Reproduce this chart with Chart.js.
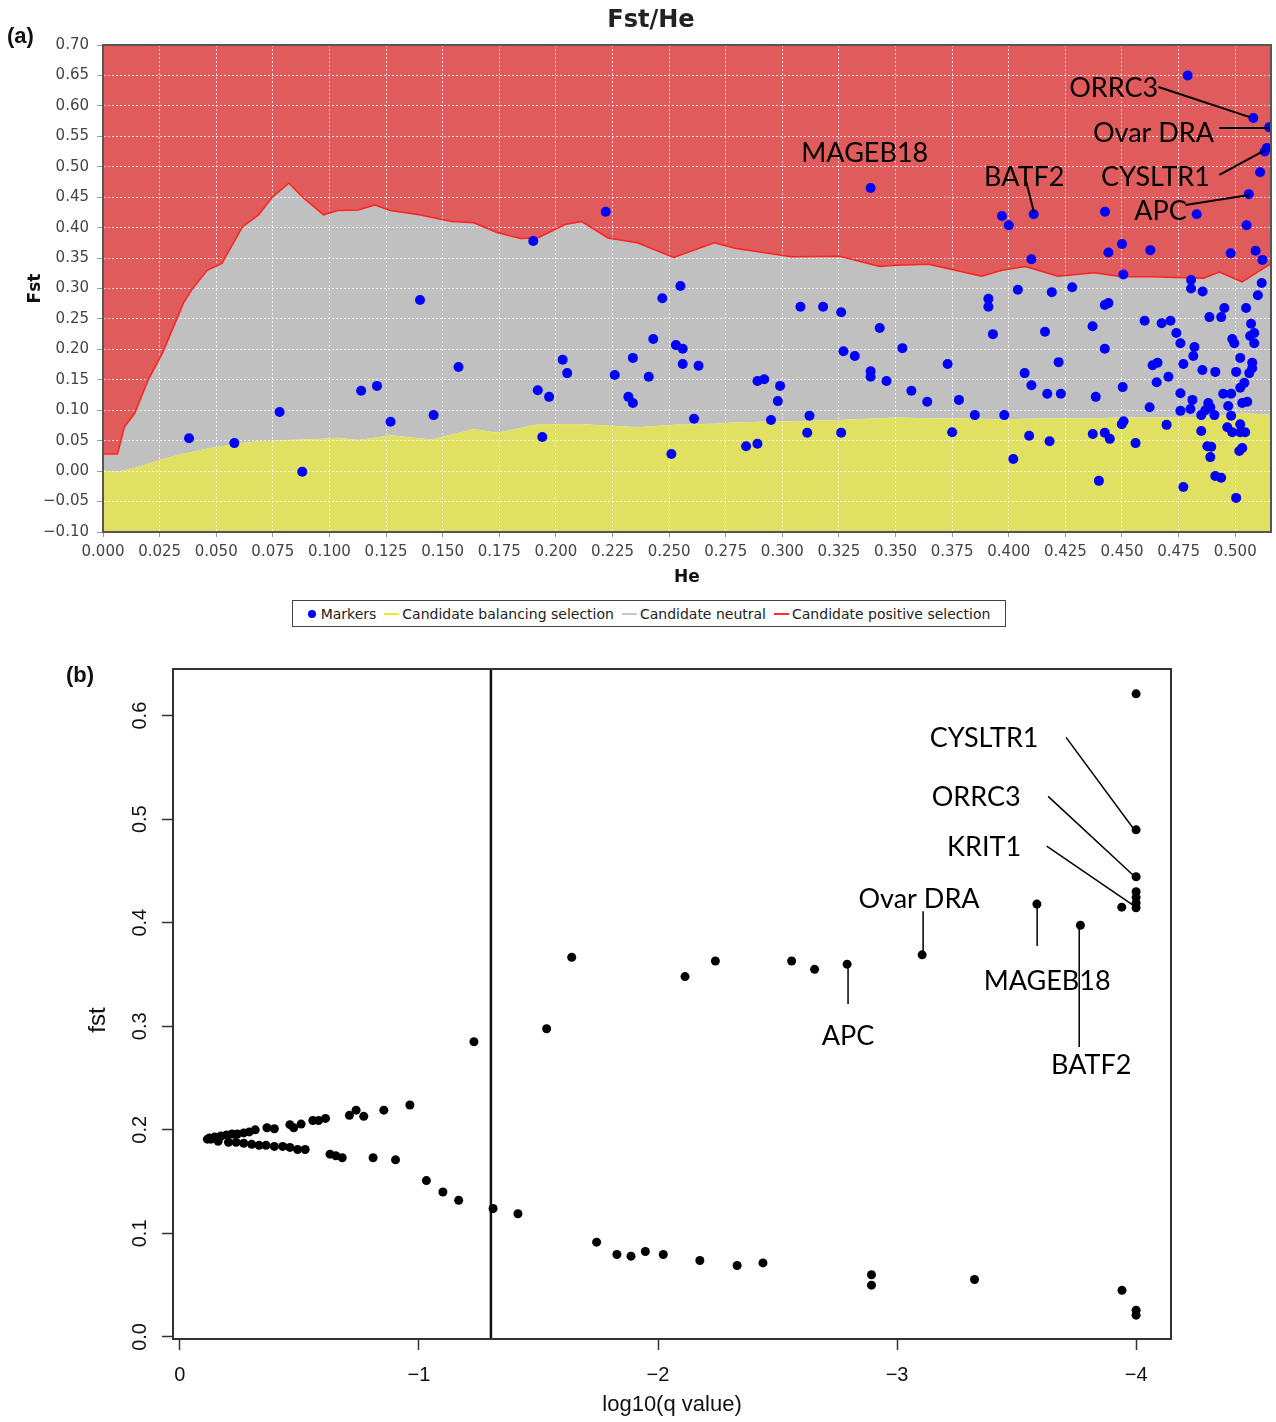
<!DOCTYPE html>
<html>
<head>
<meta charset="utf-8">
<script src="https://cdn.jsdelivr.net/npm/chart.js@4.4.1/dist/chart.umd.min.js"></script>
<style>
  body { margin: 0; background: #fff; }
  #page { position: relative; width: 1276px; height: 1422px; overflow: hidden; }
  #wrapA { position: absolute; left: 0; top: 0; width: 1276px; height: 600px; }
  #wrapB { position: absolute; left: 0; top: 640px; width: 1276px; height: 782px; }
  .tag { position: absolute; font-family: 'Liberation Sans', Arial, sans-serif; font-weight: bold; font-size: 22px; color: #111; }
  #titleA { position: absolute; left: 551px; top: 5px; width: 200px; text-align: center;
            font-family: 'DejaVu Sans', sans-serif; font-weight: bold; font-size: 24px; color: #222; }
  #legend { position: absolute; left: 292px; top: 600px; width: 714px; height: 27px; box-sizing: border-box;
            border: 1px solid #444; display: flex; align-items: center; justify-content: center;
            font-family: 'DejaVu Sans', sans-serif; font-size: 14px; color: #222; white-space: nowrap; }
  #legend .dot { width: 8px; height: 8px; border-radius: 50%; background: #0000ff; margin-right: 5px; }
  #legend .ln { width: 15px; height: 2px; margin: 0 3px 0 8px; }
</style>
</head>
<body>
<div id="page">
  <div id="wrapA"><canvas id="chartA"></canvas></div>
  <div class="tag" style="left:7px; top:23px;">(a)</div>
  <div id="titleA">Fst/He</div>
  <div id="legend">
    <span class="dot"></span>Markers
    <span class="ln" style="background:#e8e830"></span>Candidate balancing selection
    <span class="ln" style="background:#c8c8c8"></span>Candidate neutral
    <span class="ln" style="background:#ff3030"></span>Candidate positive selection
  </div>
  <div id="wrapB"><canvas id="chartB"></canvas></div>
  <div class="tag" style="left:66px; top:662px;">(b)</div>
</div>
<script>
// (a) boundaries of the neutral envelope, Fst against He
const heGrid = [0, 0.0064, 0.0095, 0.014, 0.020, 0.0265, 0.0355, 0.039, 0.046, 0.0525,
  0.0615, 0.0687, 0.075, 0.0821, 0.0884, 0.0974, 0.1037, 0.1127, 0.120, 0.127,
  0.1396, 0.145, 0.154, 0.1638, 0.174, 0.1844, 0.192, 0.204, 0.2114, 0.223,
  0.236, 0.252, 0.270, 0.279, 0.290, 0.304, 0.3254, 0.343, 0.350, 0.3646,
  0.388, 0.397, 0.4074, 0.4217, 0.4377, 0.450, 0.4627, 0.486, 0.493, 0.503, 0.5158];
const upperBound = [0.028, 0.028, 0.073, 0.095, 0.150, 0.196, 0.276, 0.297, 0.330, 0.341,
  0.401, 0.421, 0.451, 0.473, 0.449, 0.421, 0.428, 0.429, 0.437, 0.428,
  0.421, 0.417, 0.410, 0.408, 0.392, 0.382, 0.383, 0.405, 0.410, 0.383,
  0.375, 0.351, 0.375, 0.366, 0.360, 0.352, 0.353, 0.336, 0.338, 0.340,
  0.320, 0.330, 0.336, 0.320, 0.326, 0.3195, 0.3195, 0.317, 0.327, 0.311, 0.341];
const lowerBound = [0.001, -0.001, 0.002, 0.005, 0.012, 0.020, 0.029, 0.031, 0.037, 0.041,
  0.046, 0.049, 0.050, 0.051, 0.052, 0.053, 0.055, 0.051, 0.055, 0.059,
  0.054, 0.052, 0.060, 0.069, 0.063, 0.071, 0.077, 0.077, 0.077, 0.075,
  0.072, 0.076, 0.078, 0.080, 0.081, 0.082, 0.084, 0.087, 0.088, 0.087,
  0.086, 0.085, 0.086, 0.087, 0.087, 0.088, 0.088, 0.089, 0.091, 0.096, 0.092];

// (a) markers
const markerHe = [
  0.038, 0.058, 0.078, 0.088, 0.114, 0.121, 0.127, 0.140, 0.146, 0.157,
  0.190, 0.192, 0.194, 0.197, 0.203, 0.205, 0.222, 0.226, 0.232, 0.234,
  0.234, 0.241, 0.243, 0.247, 0.251, 0.253, 0.255, 0.256, 0.256, 0.261,
  0.263, 0.284, 0.289, 0.289, 0.292, 0.295, 0.298, 0.299, 0.308, 0.311,
  0.312, 0.318, 0.326, 0.326, 0.327, 0.332, 0.339, 0.339, 0.339, 0.343,
  0.346, 0.353, 0.357, 0.364, 0.373, 0.375, 0.378, 0.385, 0.391, 0.391,
  0.393, 0.397, 0.398, 0.400, 0.402, 0.404, 0.407, 0.410, 0.411, 0.410,
  0.409, 0.416, 0.417, 0.418, 0.419, 0.422, 0.423, 0.428,
  0.479, 0.508, 0.515, 0.514, 0.513, 0.511, 0.506, 0.4425, 0.483, 0.505,
  0.450, 0.444, 0.4625, 0.498, 0.509, 0.512, 0.4506, 0.4805, 0.4805, 0.4856,
  0.5117, 0.510,
  0.444, 0.4424, 0.437, 0.4424, 0.460, 0.4675, 0.4714, 0.474, 0.4758, 0.482,
  0.4815, 0.4771, 0.4635, 0.4657, 0.4705, 0.4653, 0.4503, 0.4384, 0.4758, 0.4811,
  0.4802, 0.4758, 0.4622, 0.4855, 0.4912, 0.4886, 0.4938, 0.4952, 0.5048,
  0.507, 0.5084, 0.5066, 0.5084, 0.4987, 0.4996, 0.5022, 0.5075, 0.5075, 0.5062,
  0.5004, 0.504, 0.5022, 0.4947, 0.4982, 0.4881, 0.489, 0.4868, 0.4908, 0.485,
  0.4969, 0.5031, 0.5053, 0.4982, 0.4499, 0.4507, 0.4371, 0.4424, 0.4446, 0.456,
  0.4697, 0.485, 0.4965, 0.4987, 0.5022, 0.5044, 0.5022, 0.4877, 0.4894, 0.489,
  0.5018, 0.5031, 0.4912, 0.4938, 0.4398, 0.4771, 0.5004];
const markerFst = [
  0.054, 0.046, 0.097, -0.001, 0.132, 0.140, 0.081, 0.281, 0.092, 0.171,
  0.378, 0.133, 0.056, 0.122, 0.183, 0.161, 0.426, 0.158, 0.122, 0.112,
  0.186, 0.155, 0.217, 0.284, 0.028, 0.207, 0.304, 0.201, 0.176, 0.086,
  0.173, 0.041, 0.045, 0.148, 0.151, 0.084, 0.115, 0.140, 0.270, 0.063,
  0.091, 0.270, 0.261, 0.063, 0.197, 0.189, 0.465, 0.164, 0.155, 0.235,
  0.148, 0.202, 0.132, 0.114, 0.176, 0.064, 0.117, 0.092, 0.283, 0.270,
  0.225, 0.419, 0.092, 0.404, 0.020, 0.298, 0.161, 0.141, 0.422, 0.348,
  0.058, 0.229, 0.127, 0.049, 0.294, 0.179, 0.127, 0.302,
  0.650, 0.580, 0.565, 0.531, 0.525, 0.491, 0.455, 0.426, 0.422, 0.404,
  0.373, 0.359, 0.363, 0.358, 0.362, 0.347, 0.323, 0.314, 0.300, 0.295,
  0.309, 0.289,
  0.276, 0.273, 0.238, 0.201, 0.247, 0.243, 0.247, 0.227, 0.210, 0.204,
  0.189, 0.176, 0.174, 0.178, 0.155, 0.146, 0.138, 0.122, 0.128, 0.117,
  0.102, 0.099, 0.105, 0.166, 0.163, 0.253, 0.253, 0.268, 0.268,
  0.242, 0.227, 0.222, 0.210, 0.217, 0.210, 0.186, 0.178, 0.169, 0.161,
  0.163, 0.145, 0.137, 0.127, 0.127, 0.112, 0.105, 0.100, 0.092, 0.092,
  0.107, 0.112, 0.114, 0.091, 0.077, 0.082, 0.061, 0.063, 0.053, 0.046,
  0.076, 0.066, 0.072, 0.064, 0.077, 0.064, 0.064, 0.041, 0.040, 0.023,
  0.033, 0.038, -0.008, -0.011, -0.016, -0.026, -0.044];

// (b) log10(q value) against fst
const qValue = [
  -0.115, -0.123, -0.145, -0.171, -0.195, -0.218, -0.240, -0.267, -0.290, -0.315,
  -0.364, -0.395, -0.460, -0.476, -0.507, -0.556, -0.580, -0.609, -0.709, -0.737,
  -0.769, -0.853, -0.962,
  -0.130, -0.160, -0.203, -0.235, -0.267, -0.300, -0.331, -0.360, -0.395, -0.430,
  -0.460, -0.492, -0.524, -0.628, -0.652, -0.679, -0.808, -0.902, -1.031, -1.100,
  -1.166, -1.310, -1.414, -1.743, -1.828, -1.887, -1.947, -2.022, -2.175, -2.331,
  -2.439, -2.893, -2.893, -3.324, -3.941, -4.000, -4.000,
  -1.230, -1.534, -1.639, -2.113, -2.240, -2.559, -2.655, -2.791, -3.105, -3.585,
  -3.767, -3.940, -4.000, -4.000, -4.000, -4.000, -4.000, -4.000, -4.000];
const fstB = [
  0.191, 0.192, 0.193, 0.194, 0.195, 0.196, 0.196, 0.197, 0.198, 0.200,
  0.202, 0.201, 0.205, 0.202, 0.2055, 0.209, 0.209, 0.211, 0.214, 0.219,
  0.213, 0.219, 0.224,
  0.191, 0.189, 0.188, 0.188, 0.187, 0.186, 0.185, 0.185, 0.184, 0.184,
  0.183, 0.181, 0.181, 0.1765, 0.175, 0.173, 0.173, 0.171, 0.151, 0.140,
  0.132, 0.124, 0.119, 0.0915, 0.0796, 0.078, 0.0825, 0.0796, 0.0738, 0.069,
  0.0715, 0.060, 0.050, 0.0555, 0.045, 0.0258, 0.021,
  0.285, 0.2976, 0.3666, 0.348, 0.363, 0.363, 0.355, 0.360, 0.369, 0.418,
  0.3975, 0.415, 0.4145, 0.419, 0.4245, 0.430, 0.4444, 0.4897, 0.621];
const qThreshold = -1.301; // q = 0.05

// gene labels, anchored in data units
const notesA = [
  { text: 'ORRC3', at: [0.4463, 0.629], line: [0.4661, 0.631, 0.5061, 0.582] },
  { text: 'Ovar DRA', at: [0.4639, 0.5554], line: [0.4930, 0.5637, 0.5150, 0.5637] },
  { text: 'CYSLTR1', at: [0.4648, 0.4832], line: [0.4930, 0.4865, 0.5132, 0.5275] },
  { text: 'APC', at: [0.4670, 0.4273], line: [0.4780, 0.4372, 0.5062, 0.4536] },
  { text: 'BATF2', at: [0.4068, 0.4832], line: [0.4077, 0.475, 0.4112, 0.424] },
  { text: 'MAGEB18', at: [0.3364, 0.5226] }
];
const notesB = [
  { text: 'CYSLTR1', at: [-3.364, 0.578], line: [-3.707, 0.579, -3.987, 0.4915] },
  { text: 'ORRC3', at: [-3.331, 0.521], line: [-3.632, 0.522, -3.987, 0.446] },
  { text: 'KRIT1', at: [-3.364, 0.473], line: [-3.626, 0.474, -3.987, 0.417] },
  { text: 'Ovar DRA', at: [-3.092, 0.423], line: [-3.109, 0.411, -3.109, 0.369] },
  { text: 'MAGEB18', at: [-3.628, 0.343], line: [-3.586, 0.417, -3.586, 0.3775] },
  { text: 'APC', at: [-2.795, 0.290], line: [-2.795, 0.360, -2.795, 0.3215] },
  { text: 'BATF2', at: [-3.812, 0.262], line: [-3.762, 0.3975, -3.762, 0.280] }
];

const minus = s => s.replace('-', '\u2212');
const noteFont = '27px Lato, "Open Sans", sans-serif';

const notePlugin = {
  id: 'notes',
  afterDraw(chart, args, opts) {
    const { ctx } = chart;
    const x = chart.scales.x, y = chart.scales.y;
    ctx.save();
    ctx.strokeStyle = '#000';
    ctx.lineWidth = opts.lineWidth || 2;
    ctx.fillStyle = '#000';
    ctx.font = noteFont;
    ctx.textAlign = 'center';
    ctx.textBaseline = 'middle';
    (opts.items || []).forEach(n => {
      if (n.line) {
        ctx.beginPath();
        ctx.moveTo(x.getPixelForValue(n.line[0]), y.getPixelForValue(n.line[1]));
        ctx.lineTo(x.getPixelForValue(n.line[2]), y.getPixelForValue(n.line[3]));
        ctx.stroke();
      }
      ctx.fillText(n.text, x.getPixelForValue(n.at[0]), y.getPixelForValue(n.at[1]));
    });
    ctx.restore();
  }
};

const frameA = {
  id: 'frameA',
  afterDatasetsDraw(chart) {
    const a = chart.chartArea, c = chart.ctx;
    c.save();
    c.strokeStyle = '#555';
    c.lineWidth = 2;
    c.strokeRect(a.left, a.top, a.right - a.left, a.bottom - a.top);
    c.restore();
  }
};

const frameB = {
  id: 'frameB',
  afterDraw(chart) {
    const a = chart.chartArea, c = chart.ctx, y = chart.scales.y;
    c.save();
    c.strokeStyle = '#333';
    c.lineWidth = 2;
    c.strokeRect(a.left, a.top, a.right - a.left, a.bottom - a.top);
    c.fillStyle = '#111';
    c.textAlign = 'center';
    c.textBaseline = 'middle';
    c.font = '20px "Liberation Sans", Arial, sans-serif';
    y.ticks.forEach(t => {
      c.save();
      c.translate(a.left - 33, y.getPixelForValue(t.value));
      c.rotate(-Math.PI / 2);
      c.fillText(t.value.toFixed(1), 0, 0);
      c.restore();
    });
    c.font = '24px "Liberation Sans", Arial, sans-serif';
    c.translate(a.left - 75, (a.top + a.bottom) / 2 + 16);
    c.rotate(-Math.PI / 2);
    c.fillText('fst', 0, 0);
    c.restore();
  }
};

const sansA = "'DejaVu Sans', sans-serif";

new Chart(document.getElementById('chartA'), {
  type: 'scatter',
  data: {
    datasets: [
      {
        label: 'Markers',
        data: markerHe.map((h, i) => ({ x: h, y: markerFst[i] })),
        backgroundColor: '#0000ff',
        borderWidth: 0,
        pointRadius: 5
      },
      {
        label: 'Candidate balancing selection',
        data: heGrid.map((h, i) => ({ x: h, y: lowerBound[i] })),
        showLine: true,
        pointRadius: 0,
        borderWidth: 0,
        borderColor: 'rgba(0,0,0,0)',
        backgroundColor: '#e0e062',
        fill: 'start'
      },
      {
        label: 'Candidate neutral',
        data: heGrid.map((h, i) => ({ x: h, y: upperBound[i] })),
        showLine: true,
        pointRadius: 0,
        borderWidth: 0,
        borderColor: 'rgba(0,0,0,0)',
        backgroundColor: '#c0c0c0',
        fill: '-1'
      },
      {
        label: 'Candidate positive selection',
        data: heGrid.map((h, i) => ({ x: h, y: upperBound[i] })),
        showLine: true,
        pointRadius: 0,
        borderWidth: 1.5,
        borderColor: '#ff2020',
        backgroundColor: '#e05c5c',
        fill: 'end'
      }
    ]
  },
  options: {
    responsive: true,
    maintainAspectRatio: false,
    animation: false,
    events: [],
    layout: { padding: { top: 45, bottom: 8, left: 0, right: 0 } },
    plugins: {
      legend: { display: false },
      tooltip: { enabled: false },
      filler: { drawTime: 'beforeDraw' },
      notes: { items: notesA, lineWidth: 2 }
    },
    scales: {
      x: {
        type: 'linear',
        min: 0,
        max: 0.5158,
        ticks: {
          stepSize: 0.025, includeBounds: false, autoSkip: false, maxRotation: 0,
          color: '#444', font: { family: sansA, size: 15 }, padding: 6,
          callback: v => v.toFixed(3)
        },
        grid: { color: 'rgba(255,255,255,0.75)', tickLength: 5, tickColor: '#999' },
        border: { display: true, color: '#555', width: 2, dash: [2, 2] },
        title: { display: true, text: 'He', color: '#111', font: { family: sansA, size: 17, weight: 'bold' }, padding: { top: 0, bottom: 4 } },
        afterFit: s => { s.height = 60; }
      },
      y: {
        min: -0.1,
        max: 0.7,
        ticks: {
          stepSize: 0.05, autoSkip: false, color: '#444', font: { family: sansA, size: 15 }, padding: 8,
          callback: v => Math.abs(v) < 1e-9 ? '0.00' : minus(v.toFixed(2))
        },
        grid: { color: 'rgba(255,255,255,0.75)', tickLength: 6, tickColor: '#999' },
        border: { display: true, color: '#555', width: 2, dash: [2, 2] },
        title: { display: true, text: 'Fst', color: '#111', font: { family: sansA, size: 17, weight: 'bold' }, padding: { top: 25, bottom: 0 } },
        afterFit: s => { s.width = 103; }
      }
    }
  },
  plugins: [frameA, notePlugin]
});

const sansB = "'Liberation Sans', Arial, sans-serif";

new Chart(document.getElementById('chartB'), {
  type: 'scatter',
  data: {
    datasets: [
      {
        label: 'fst',
        data: qValue.map((q, i) => ({ x: q, y: fstB[i] })),
        backgroundColor: '#000',
        borderWidth: 0,
        pointRadius: 4.5
      },
      {
        label: 'q = 0.05',
        data: [{ x: qThreshold, y: -0.002 }, { x: qThreshold, y: 0.645 }],
        showLine: true,
        pointRadius: 0,
        borderColor: '#111',
        borderWidth: 2.5
      }
    ]
  },
  options: {
    responsive: true,
    maintainAspectRatio: false,
    animation: false,
    events: [],
    layout: { padding: { top: 29, bottom: 0, left: 0, right: 105 } },
    plugins: {
      legend: { display: false },
      tooltip: { enabled: false },
      notes: { items: notesB, lineWidth: 1.5 }
    },
    scales: {
      x: {
        type: 'linear',
        reverse: true,
        min: -4.146,
        max: 0.029,
        ticks: {
          stepSize: 1, includeBounds: false, color: '#111', font: { family: sansB, size: 20 }, padding: 13,
          callback: v => minus(String(v))
        },
        grid: { drawOnChartArea: false, tickLength: 11, tickColor: '#333', tickWidth: 1.5 },
        border: { display: true, color: '#333', width: 2 },
        title: { display: true, text: 'log10(q value)', color: '#111', font: { family: sansB, size: 22 }, padding: { top: 0, bottom: 4 } },
        afterFit: s => { s.height = 83; }
      },
      y: {
        min: -0.002,
        max: 0.645,
        ticks: { stepSize: 0.1, includeBounds: false, display: false },
        grid: { drawOnChartArea: false, tickLength: 11, tickColor: '#333', tickWidth: 1.5 },
        border: { display: true, color: '#333', width: 2 },
        afterFit: s => { s.width = 173; }
      }
    }
  },
  plugins: [frameB, notePlugin]
});
</script>
</body>
</html>
